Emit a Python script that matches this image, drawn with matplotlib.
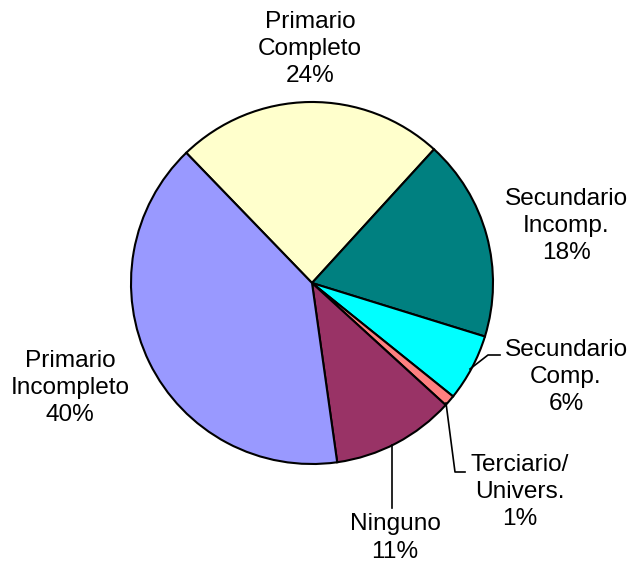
import matplotlib
matplotlib.use("Agg")
import matplotlib.pyplot as plt

# Nivel educativo (%), en el orden del grafico (horario desde arriba a la izquierda)
categorias = ["Primario\nCompleto", "Secundario\nIncomp.", "Secundario\nComp.",
              "Terciario/\nUnivers.", "Ninguno", "Primario\nIncompleto"]
valores = [24, 18, 6, 1, 11, 40]
colores = ["#FFFFCC", "#008080", "#00FFFF", "#FF8080", "#993366", "#9999FF"]

# posiciones de etiquetas en pixeles (x, y desde arriba)
pos_etiquetas = [(310, 49), (566, 226), (566, 377), (520, 492), (395, 538), (70, 388)]

W, H = 636, 564
plt.rcParams["font.family"] = ["Liberation Sans", "DejaVu Sans"]

fig = plt.figure(figsize=(W / 100, H / 100), dpi=100)
ax = fig.add_axes([0, 0, 1, 1])

ax.pie(valores, colors=colores, center=(312, H - 283), radius=181,
       startangle=134, counterclock=False,
       wedgeprops=dict(edgecolor="black", linewidth=1.5))

ax.set_xlim(0, W)
ax.set_ylim(0, H)
ax.set_aspect("equal")
ax.axis("off")

for cat, val, (px, py) in zip(categorias, valores, pos_etiquetas):
    ax.text(px, H - py, f"{cat}\n{val}%", ha="center", va="center",
            fontsize=17.6, linespacing=1.3)

# lineas guia
guias = [
    [(470, 369), (488, 355), (500, 355)],
    [(446, 403), (455, 472), (465, 472)],
    [(392, 445), (392, 508)],
]
for g in guias:
    xs = [p[0] for p in g]
    ys = [H - p[1] for p in g]
    ax.plot(xs, ys, color="black", linewidth=1.2)

fig.savefig("out.png", dpi=100)
